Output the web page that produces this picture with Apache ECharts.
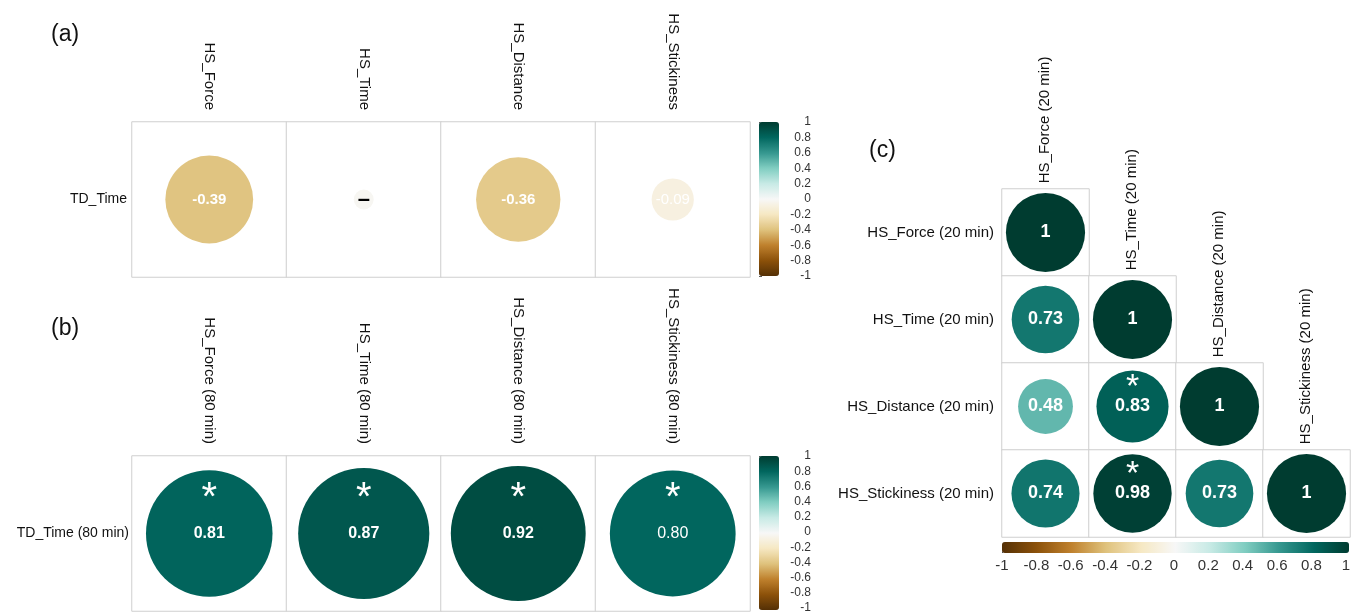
<!DOCTYPE html>
<html>
<head>
<meta charset="utf-8">
<script src="https://cdn.jsdelivr.net/npm/echarts@6/dist/echarts.min.js"></script>
<style>
html,body{margin:0;padding:0;background:#fff;}
#chart{width:1353px;height:614px;}
</style>
</head>
<body>
<div id="chart"></div>
<script>
// ---------- data ----------
const aCols = ['HS_Force', 'HS_Time', 'HS_Distance', 'HS_Stickiness'];
const aRows = ['TD_Time'];
const aVals = [-0.39, -0.02, -0.36, -0.09];
const aText = ['-0.39', '\u2013', '-0.36', '-0.09'];

const bCols = ['HS_Force (80 min)', 'HS_Time (80 min)', 'HS_Distance (80 min)', 'HS_Stickiness (80 min)'];
const bRows = ['TD_Time (80 min)'];
const bVals = [0.81, 0.87, 0.92, 0.80];
const bText = ['0.81', '0.87', '0.92', '0.80'];
const bSig = [true, true, true, true];

const cVars = ['HS_Force (20 min)', 'HS_Time (20 min)', 'HS_Distance (20 min)', 'HS_Stickiness (20 min)'];
const cMatrix = [
  [1],
  [0.73, 1],
  [0.48, 0.83, 1],
  [0.74, 0.98, 0.73, 1]
];
const cSig = [
  [false],
  [false, false],
  [false, true, false],
  [false, true, false, false]
];

const barTicks = [-1, -0.8, -0.6, -0.4, -0.2, 0, 0.2, 0.4, 0.6, 0.8, 1];

// ---------- styles ----------
const BrBG = ['#543005', '#8C510A', '#BF812D', '#DFC27D', '#F6E8C3', '#F7F7F7',
              '#C7EAE5', '#80CDC1', '#35978F', '#01665E', '#003C30'];
const FONT = '"Liberation Sans", Arial, Helvetica, sans-serif';
const BORDER = '#cfcfcf';
const GA = {left: 132, top: 122, width: 618, height: 155};
const GB = {left: 132, top: 456, width: 618, height: 155};
const GC = {left: 1002, top: 189, width: 348, height: 348};
const cellA = GA.width / aCols.length;
const cellB = GB.width / bCols.length;
const cellC = GC.width / cVars.length;
const RF = 0.91;

// ---------- build data ----------
const aBoxes = aCols.map((c, i) => [i, 0, 0]);
const aCircles = aVals.map((v, i) => ({
  value: [i, 0, v],
  label: {formatter: aText[i],
          color: Math.abs(v) < 0.05 ? '#000' : '#fff',
          fontWeight: Math.abs(v) < 0.2 && Math.abs(v) >= 0.05 ? 'normal' : 'bold',
          fontSize: Math.abs(v) < 0.05 ? 22 : 15}
}));

const bBoxes = bCols.map((c, i) => [i, 0, 0]);
const bCircles = bVals.map((v, i) => ({
  value: [i, 0, v],
  label: {formatter: bText[i], fontWeight: i === 3 ? 'normal' : 'bold'}
}));
const bStars = [];
bSig.forEach((s, i) => { if (s) bStars.push([i, 0]); });

const cBoxes = [], cCircles = [], cStars = [];
cMatrix.forEach((row, r) => {
  row.forEach((v, c) => {
    const box = {value: [c, r, 0]};
    if (c === r) box.label = {show: true, formatter: cVars[c]};
    cBoxes.push(box);
    cCircles.push({value: [c, r, v], label: {formatter: v === 1 ? '1' : v.toFixed(2)}});
    if (cSig[r][c]) cStars.push([c, r]);
  });
});

function sizeFn(cell) {
  return function (d) { return RF * cell * Math.sqrt(Math.abs(d[2])); };
}

const catAxisX = (data, gi, showLabels) => ({
  type: 'category', data: data, gridIndex: gi, position: 'top',
  axisLine: {show: false}, axisTick: {show: false}, splitLine: {show: false},
  axisLabel: {show: showLabels, rotate: 90, margin: 12, fontSize: 15, color: '#111', fontFamily: FONT}
});
const catAxisY = (data, gi, size, margin) => ({
  type: 'category', data: data, gridIndex: gi, inverse: true,
  axisLine: {show: false}, axisTick: {show: false}, splitLine: {show: false},
  axisLabel: {margin: margin, fontSize: size, color: '#111', fontFamily: FONT}
});

const boxStyle = {color: '#fff', borderColor: BORDER, borderWidth: 1};
const dotStyle = {opacity: 1};
const starStyle = {color: 'rgba(0,0,0,0)', opacity: 1};
const fmtTick = v => String(Math.round(v * 10) / 10);

const option = {
  backgroundColor: '#fff',
  animation: false,
  title: [
    {text: '(a)', left: 46, top: 18, textStyle: {fontSize: 23, fontWeight: 'normal', color: '#111', fontFamily: FONT}},
    {text: '(b)', left: 46, top: 312, textStyle: {fontSize: 23, fontWeight: 'normal', color: '#111', fontFamily: FONT}},
    {text: '(c)', left: 864, top: 134, textStyle: {fontSize: 23, fontWeight: 'normal', color: '#111', fontFamily: FONT}}
  ],
  grid: [
    Object.assign({}, GA),
    Object.assign({}, GB),
    Object.assign({}, GC),
    {left: 759, top: 122, width: 20, height: 154},
    {left: 759, top: 456, width: 20, height: 154},
    {left: 1002, top: 542, width: 347, height: 11}
  ],
  xAxis: [
    catAxisX(aCols, 0, true),
    catAxisX(bCols, 1, true),
    catAxisX(cVars, 2, false),
    {type: 'value', gridIndex: 3, show: false, min: 0, max: 1},
    {type: 'value', gridIndex: 4, show: false, min: 0, max: 1},
    {type: 'value', gridIndex: 5, min: barTicks[0], max: barTicks[barTicks.length - 1], interval: 0.2,
     position: 'bottom', splitLine: {show: false}, axisLine: {show: false},
     axisTick: {show: true, inside: true, length: 3, lineStyle: {color: '#444'}},
     axisLabel: {margin: 5, fontSize: 15, color: '#333', fontFamily: FONT, formatter: fmtTick}}
  ],
  yAxis: [
    catAxisY(aRows, 0, 14, 5),
    catAxisY(bRows, 1, 14, 3),
    catAxisY(cVars, 2, 15, 8),
    {type: 'value', gridIndex: 3, position: 'right', min: barTicks[0], max: barTicks[barTicks.length - 1], interval: 0.2,
     splitLine: {show: false}, axisLine: {show: false},
     axisTick: {show: true, length: 3, lineStyle: {color: '#555'}},
     axisLabel: {align: 'right', margin: 32, fontSize: 12, color: '#333', fontFamily: FONT, formatter: fmtTick}},
    {type: 'value', gridIndex: 4, position: 'right', min: barTicks[0], max: barTicks[barTicks.length - 1], interval: 0.2,
     splitLine: {show: false}, axisLine: {show: false},
     axisTick: {show: true, length: 3, lineStyle: {color: '#555'}},
     axisLabel: {align: 'right', margin: 32, fontSize: 12, color: '#333', fontFamily: FONT, formatter: fmtTick}},
    {type: 'value', gridIndex: 5, show: false, min: 0, max: 1}
  ],
  visualMap: [
    {type: 'continuous', min: -1, max: 1, seriesIndex: 1, orient: 'vertical', left: 759, top: 122,
     itemWidth: 20, itemHeight: 154, padding: 0, calculable: false, hoverLink: false, text: null,
     inRange: {color: BrBG}},
    {type: 'continuous', min: -1, max: 1, seriesIndex: 4, orient: 'vertical', left: 759, top: 456,
     itemWidth: 20, itemHeight: 154, padding: 0, calculable: false, hoverLink: false, text: null,
     inRange: {color: BrBG}},
    {type: 'continuous', min: -1, max: 1, seriesIndex: 7, orient: 'horizontal', left: 1002, top: 542,
     itemWidth: 11, itemHeight: 347, padding: 0, calculable: false, hoverLink: false, text: null,
     inRange: {color: BrBG}}
  ],
  series: [
    {type: 'heatmap', xAxisIndex: 0, yAxisIndex: 0, data: aBoxes, itemStyle: boxStyle, silent: true},
    {type: 'scatter', xAxisIndex: 0, yAxisIndex: 0, data: aCircles, symbolSize: sizeFn(cellA), silent: true,
     itemStyle: dotStyle,
     label: {show: true, position: 'inside', color: '#fff', fontSize: 15, fontFamily: FONT}},
    {type: 'scatter', xAxisIndex: 0, yAxisIndex: 0, data: [], symbolSize: 1},
    {type: 'heatmap', xAxisIndex: 1, yAxisIndex: 1, data: bBoxes, itemStyle: boxStyle, silent: true},
    {type: 'scatter', xAxisIndex: 1, yAxisIndex: 1, data: bCircles, symbolSize: sizeFn(cellB), silent: true,
     itemStyle: dotStyle,
     label: {show: true, position: 'inside', color: '#fff', fontSize: 16, fontFamily: FONT}},
    {type: 'scatter', xAxisIndex: 1, yAxisIndex: 1, data: bStars, symbolSize: 1, silent: true,
     itemStyle: starStyle,
     label: {show: true, position: 'inside', formatter: '*', color: '#fff', fontSize: 40, offset: [0, -35], fontFamily: FONT}},
    {type: 'heatmap', xAxisIndex: 2, yAxisIndex: 2, data: cBoxes, itemStyle: boxStyle, silent: true,
     label: {show: false, position: [cellC / 2, -5], rotate: 90, align: 'left', verticalAlign: 'middle',
             fontSize: 15, color: '#111', fontFamily: FONT}},
    {type: 'scatter', xAxisIndex: 2, yAxisIndex: 2, data: cCircles, symbolSize: sizeFn(cellC), silent: true,
     itemStyle: dotStyle,
     label: {show: true, position: 'inside', color: '#fff', fontSize: 18, fontWeight: 'bold', fontFamily: FONT}},
    {type: 'scatter', xAxisIndex: 2, yAxisIndex: 2, data: cStars, symbolSize: 1, silent: true,
     itemStyle: starStyle,
     label: {show: true, position: 'inside', formatter: '*', color: '#fff', fontSize: 34, offset: [0, -19], fontFamily: FONT}}
  ]
};

const chart = echarts.init(document.getElementById('chart'), null, {renderer: 'canvas'});
chart.setOption(option);
</script>
</body>
</html>
